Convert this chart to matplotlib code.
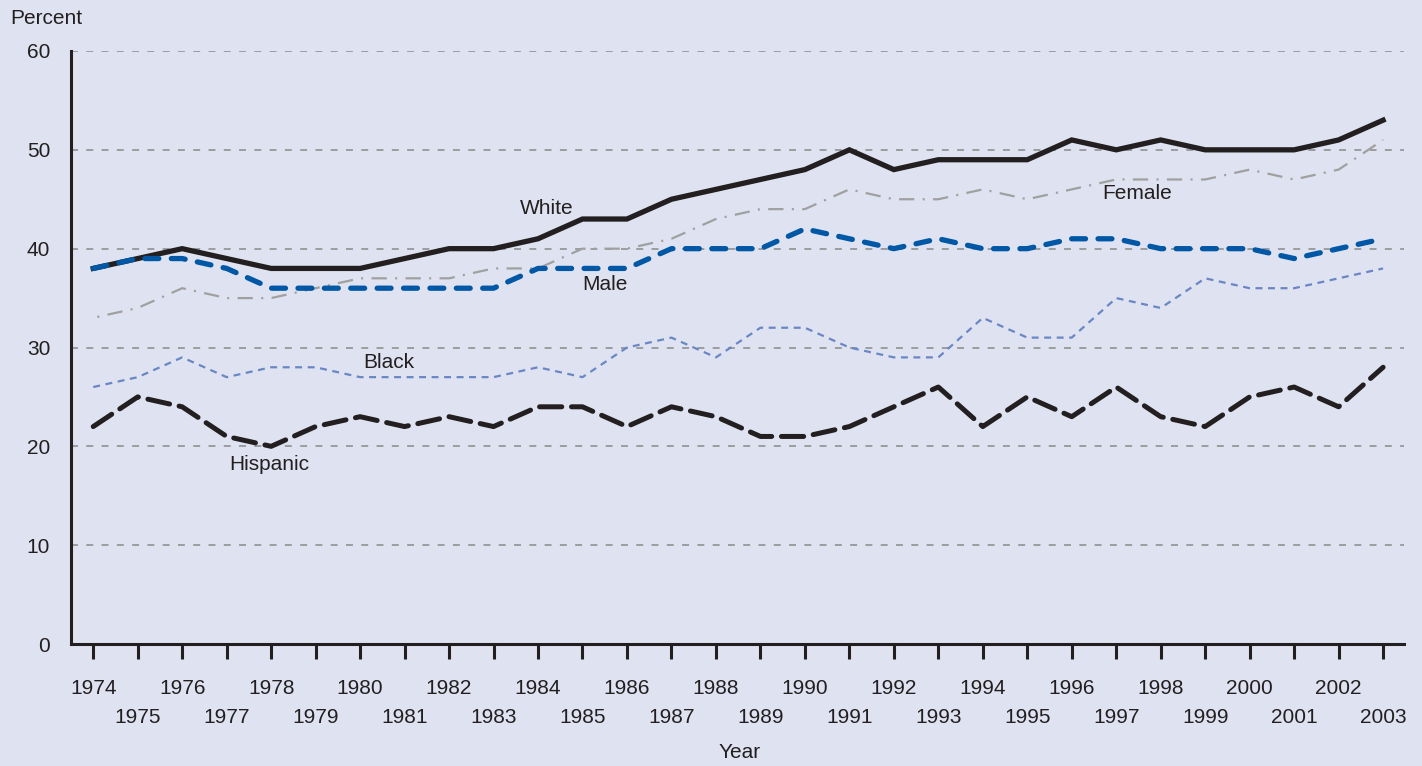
import matplotlib
matplotlib.use("Agg")
import matplotlib.pyplot as plt

# Percent of students, 1974-2003
years = list(range(1974, 2004))
white = [38, 39, 40, 39, 38, 38, 38, 39, 40, 40, 41, 43, 43, 45, 46,
         47, 48, 50, 48, 49, 49, 49, 51, 50, 51, 50, 50, 50, 51, 53]
female = [33, 34, 36, 35, 35, 36, 37, 37, 37, 38, 38, 40, 40, 41, 43,
          44, 44, 46, 45, 45, 46, 45, 46, 47, 47, 47, 48, 47, 48, 51]
male = [38, 39, 39, 38, 36, 36, 36, 36, 36, 36, 38, 38, 38, 40, 40,
        40, 42, 41, 40, 41, 40, 40, 41, 41, 40, 40, 40, 39, 40, 41]
black = [26, 27, 29, 27, 28, 28, 27, 27, 27, 27, 28, 27, 30, 31, 29,
         32, 32, 30, 29, 29, 33, 31, 31, 35, 34, 37, 36, 36, 37, 38]
hispanic = [22, 25, 24, 21, 20, 22, 23, 22, 23, 22, 24, 24, 22, 24, 23,
            21, 21, 22, 24, 26, 22, 25, 23, 26, 23, 22, 25, 26, 24, 28]

BG = "#dfe3f1"
INK = "#231f20"

plt.rcParams['font.family'] = ['Liberation Sans', 'DejaVu Sans']
plt.rcParams['lines.scale_dashes'] = False

fig = plt.figure(figsize=(14.22, 7.66), dpi=100, facecolor=BG)
ax = fig.add_axes([71 / 1422, 122 / 766, (1404 - 71) / 1422, (644 - 51) / 766])
ax.set_facecolor(BG)

# gridlines
for v in range(10, 61, 10):
    ax.axhline(v, color="#8a8a8a", lw=1.1, linestyle=(0, (5, 6)), zorder=1)

ax.plot(years, female, color="#a0a0a0", lw=1.6, linestyle=(14, (11, 6, 1.5, 6)),
        zorder=2)
ax.plot(years, black, color="#6a86c4", lw=1.6, linestyle=(0, (5, 4)), zorder=2)
ax.plot(years, white, color=INK, lw=3.8, solid_joinstyle="miter", zorder=3)
ax.plot(years, hispanic, color=INK, lw=3.6, linestyle=(0, (16, 7)),
        dash_capstyle="round", zorder=3)
ax.plot(years, male, color="#0057a5", lw=3.8, linestyle=(0, (10, 9)),
        dash_capstyle="round", zorder=4)

lab = dict(fontsize=15, color=INK, ha="center", va="center")
ax.text(1984.2, 44.1, "White", **lab)
ax.text(1985.5, 36.4, "Male", **lab)
ax.text(1980.65, 28.5, "Black", **lab)
ax.text(1977.96, 18.2, "Hispanic", **lab)
ax.text(1997.47, 45.6, "Female", **lab)

ax.set_xlim(1973.5, 2003.47)
ax.set_ylim(0, 60)

for s in ["top", "right"]:
    ax.spines[s].set_visible(False)
for s in ["left", "bottom"]:
    ax.spines[s].set_color(INK)
    ax.spines[s].set_linewidth(2.2)

ax.set_yticks(range(0, 61, 10))
ax.tick_params(axis="y", length=0, pad=15, labelsize=15, labelcolor=INK)

ax.set_xticks([y for y in years if y % 2 == 0])
ax.set_xticks([y for y in years if y % 2 == 1], minor=True)
ax.set_xticklabels([str(y) for y in years if y % 2 == 0])
ax.set_xticklabels([str(y) for y in years if y % 2 == 1], minor=True)
ax.tick_params(axis="x", which="both", direction="out", length=11, width=2.2,
               color=INK, labelsize=15, labelcolor=INK)
ax.tick_params(axis="x", which="major", pad=14.5)
ax.tick_params(axis="x", which="minor", pad=35)

fig.text(10 / 1422, 1 - 18 / 766, "Percent", fontsize=15, color=INK,
         ha="left", va="center")
fig.text(740 / 1422, 1 - 752 / 766, "Year", fontsize=15, color=INK,
         ha="center", va="center")

fig.savefig("out.png", dpi=100, facecolor=BG)
